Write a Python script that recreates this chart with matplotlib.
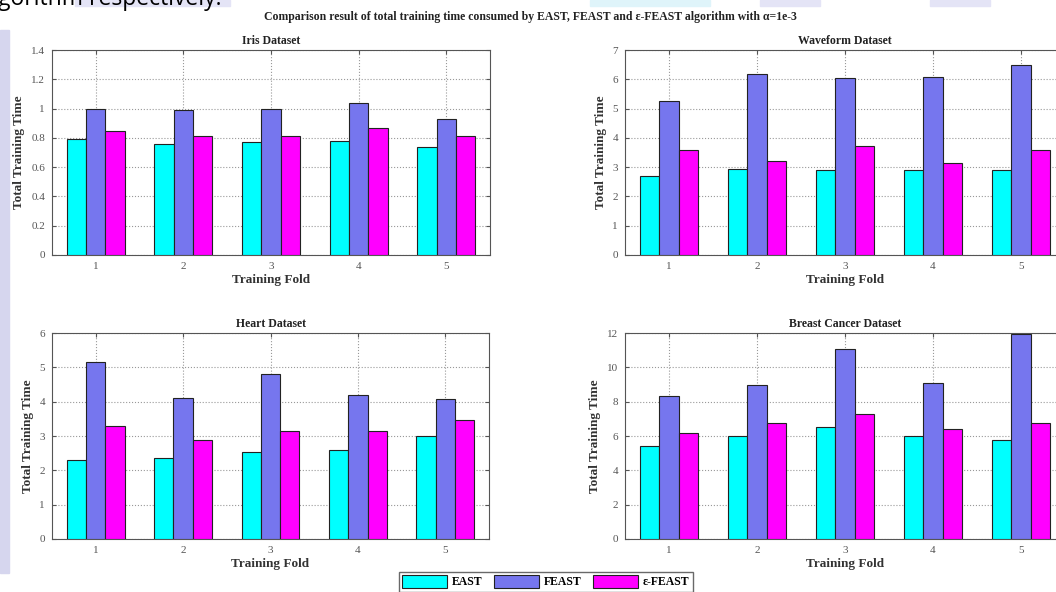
import numpy as np
import matplotlib
matplotlib.use('Agg')
import matplotlib.pyplot as plt
from matplotlib.patches import Patch, Rectangle

# values
folds = [1, 2, 3, 4, 5]
series = ['EAST', 'FEAST', 'ε-FEAST']
colors = ['#00ffff', '#7676ee', '#ff00ff']

iris_east = [0.79, 0.76, 0.77, 0.78, 0.74]
iris_feast = [1.00, 0.99, 1.00, 1.04, 0.93]
iris_efeast = [0.85, 0.815, 0.815, 0.865, 0.815]

wave_east = [2.7, 2.95, 2.9, 2.9, 2.9]
wave_feast = [5.26, 6.17, 6.03, 6.09, 6.48]
wave_efeast = [3.6, 3.22, 3.73, 3.15, 3.6]

heart_east = [2.31, 2.36, 2.52, 2.58, 2.99]
heart_feast = [5.16, 4.10, 4.82, 4.20, 4.09]
heart_efeast = [3.30, 2.87, 3.14, 3.14, 3.48]

breast_east = [5.42, 6.0, 6.5, 6.0, 5.78]
breast_feast = [8.31, 8.98, 11.08, 9.07, 11.96]
breast_efeast = [6.2, 6.73, 7.28, 6.4, 6.73]

panels = [
    ('Iris Dataset', [iris_east, iris_feast, iris_efeast], 1.4, np.arange(0, 1.41, 0.2)),
    ('Waveform Dataset', [wave_east, wave_feast, wave_efeast], 7, np.arange(0, 8, 1)),
    ('Heart Dataset', [heart_east, heart_feast, heart_efeast], 6, np.arange(0, 7, 1)),
    ('Breast Cancer Dataset', [breast_east, breast_feast, breast_efeast], 12, np.arange(0, 13, 2)),
]

W, H = 1056, 592
fig = plt.figure(figsize=(W / 100, H / 100), dpi=100)

serif = ['Liberation Serif', 'DejaVu Serif']

# page background bits around the screenshot
fig.patches.append(Rectangle((0, 19 / H), 9 / W, (573 - 30) / H,
                             transform=fig.transFigure, color='#d6d6ee', zorder=0))
for x0, w, c in [(75, 155, '#e4e4f6'), (590, 120, '#dff4fa'), (760, 60, '#e4e4f6'), (930, 60, '#e4e4f6')]:
    fig.patches.append(Rectangle((x0 / W, 1 - 6 / H), w / W, 6 / H,
                                 transform=fig.transFigure, color=c, zorder=0))
# the line of page text above the figure is cut off by the screenshot
fig.text(-2 / W, 1 + 13 / H, 'gorithm respectively.', fontsize=16.5, va='top', ha='left',
         family=['Open Sans', 'DejaVu Sans'])

fig.text(530 / W, 1 - 17 / H,
         'Comparison result of total training time consumed by EAST, FEAST and ε-FEAST algorithm with α=1e-3',
         ha='center', va='center', fontsize=8.5, fontweight='bold', family=serif, color='#222222')

# axes boxes in pixels: left, top, right, bottom
boxes = [(52, 50, 490, 255), (625, 50, 1065, 255), (52, 333, 489, 539), (625, 333, 1065, 539)]

x = np.array(folds)
bw = 0.22
for (title, vals, ymax, yt), (l, t, r, b) in zip(panels, boxes):
    ax = fig.add_axes([l / W, 1 - b / H, (r - l) / W, (b - t) / H])
    for i, v in enumerate(vals):
        ax.bar(x + (i - 1) * bw, v, bw, color=colors[i], edgecolor='#222222', linewidth=0.8, zorder=3)
    ax.set_xlim(0.5, 5.5)
    ax.set_ylim(0, ymax)
    ax.set_xticks(folds)
    ax.set_yticks(yt)
    ax.set_yticklabels(['%g' % v for v in yt])
    ax.grid(True, linestyle=':', color='#999999', linewidth=0.8, zorder=0)
    ax.tick_params(direction='in', top=True, right=True, labelsize=8, colors='#555555',
                   length=3, pad=5)
    for lab in ax.get_xticklabels() + ax.get_yticklabels():
        lab.set_family(serif)
    for s in ax.spines.values():
        s.set_color('#555555')
    ax.set_title(title, fontsize=8.5, fontweight='bold', family=serif, color='#222222', pad=4)
    ax.set_xlabel('Training Fold', fontsize=9.5, fontweight='bold', family=serif, color='#333333', labelpad=2)
    ax.set_ylabel('Total Training Time', fontsize=9.5, fontweight='bold', family=serif, color='#333333', labelpad=4)

handles = [Patch(facecolor=c, edgecolor='#222222', linewidth=0.8) for c in colors]
fig.legend(handles, series, loc='upper center', bbox_to_anchor=(546 / W, 1 - 566 / H), ncol=3,
           fancybox=False, edgecolor='#444444', handlelength=3.8, handleheight=1.2,
           columnspacing=1.0, handletextpad=0.4, borderpad=0.3,
           prop={'family': serif, 'weight': 'bold', 'size': 8.5})

fig.savefig('out.png', dpi=100)
